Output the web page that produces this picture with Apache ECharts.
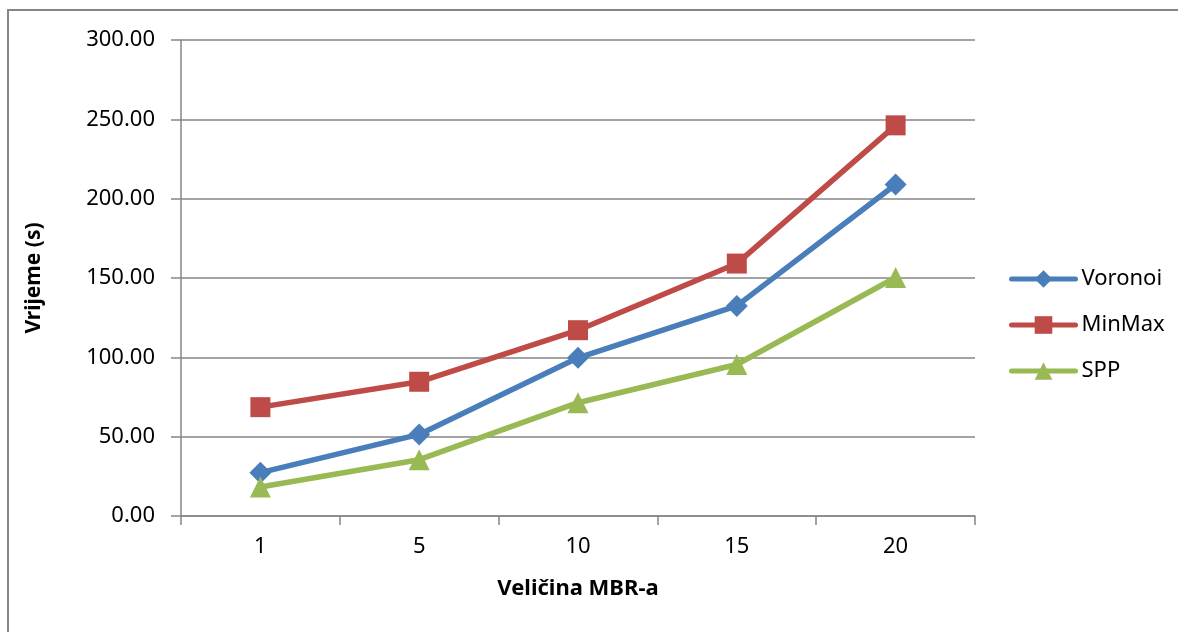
<!DOCTYPE html>
<html>
<head>
<meta charset="utf-8">
<script src="https://cdn.jsdelivr.net/npm/echarts@6/dist/echarts.min.js"></script>
<style>
html,body{margin:0;padding:0;background:#fff;}
#chart{width:1178px;height:632px;}
</style>
</head>
<body>
<div id="chart"></div>
<script>
const categories = ['1', '5', '10', '15', '20'];
const voronoi = [27.3, 51.4, 99.7, 132.4, 208.9];
const minMax = [68.6, 84.6, 117.1, 159.1, 246.2];
const spp = [18.3, 35.5, 71.4, 95.5, 150.3];
const yTicks = { min: 0, max: 300, interval: 50 };
const xTitle = 'Veličina MBR-a';
const yTitle = 'Vrijeme (s)';

const FONT = '"Noto Sans", "Liberation Sans", sans-serif';
const GRAY = '#868686';

const chart = echarts.init(document.getElementById('chart'), null, { renderer: 'canvas' });

function lineSeries(name, data, color, symbol, size) {
  return {
    name: name,
    type: 'line',
    data: data,
    symbol: symbol,
    symbolSize: size,
    showSymbol: true,
    lineStyle: { color: color, width: 5.5 },
    itemStyle: { color: color, borderWidth: 0 },
    emphasis: { disabled: true },
    animation: false,
    z: 3
  };
}

chart.setOption({
  backgroundColor: '#ffffff',
  animation: false,
  graphic: [{
    type: 'rect',
    shape: { x: 8, y: 10, width: 1300, height: 800 },
    style: { fill: 'none', stroke: GRAY, lineWidth: 2 },
    silent: true
  }],
  grid: { left: 181, right: 203, top: 40, bottom: 116, containLabel: false },
  legend: {
    orient: 'vertical',
    left: 1004,
    top: 263,
    itemGap: 24,
    itemWidth: 64,
    itemHeight: 22,
    lineStyle: { width: 5, cap: 'round' },
    textStyle: { fontFamily: FONT, fontSize: 22, color: '#000', padding: [0, 0, 0, 1] },
    data: ['Voronoi', 'MinMax', 'SPP'],
    selectedMode: false
  },
  xAxis: {
    type: 'category',
    data: categories,
    boundaryGap: true,
    name: xTitle,
    nameLocation: 'middle',
    nameGap: 62,
    nameTextStyle: { fontFamily: FONT, fontSize: 22, fontWeight: 'bold', color: '#000' },
    axisLine: { lineStyle: { color: GRAY, width: 1.5 } },
    axisTick: { show: true, length: 9, alignWithLabel: false, lineStyle: { color: GRAY, width: 1.5 } },
    axisLabel: { fontFamily: FONT, fontSize: 22, color: '#000', margin: 20 },
    splitLine: { show: false }
  },
  yAxis: {
    type: 'value',
    min: yTicks.min,
    max: yTicks.max,
    interval: yTicks.interval,
    name: yTitle,
    nameLocation: 'middle',
    nameGap: 136,
    nameRotate: 90,
    nameTextStyle: { fontFamily: FONT, fontSize: 21, fontWeight: 'bold', color: '#000' },
    axisLine: { show: true, lineStyle: { color: GRAY, width: 1.5 } },
    axisTick: { show: true, length: 10, lineStyle: { color: GRAY, width: 1.5 } },
    axisLabel: {
      fontFamily: FONT, fontSize: 22, color: '#000', margin: 26,
      formatter: v => v.toFixed(2)
    },
    splitLine: { show: true, lineStyle: { color: GRAY, width: 1.5 } }
  },
  series: [
    lineSeries('Voronoi', voronoi, '#4A7EBB', 'diamond', 22),
    lineSeries('MinMax', minMax, '#BE4B48', 'rect', 20),
    lineSeries('SPP', spp, '#98B954', 'triangle', 21)
  ]
});
</script>
</body>
</html>
